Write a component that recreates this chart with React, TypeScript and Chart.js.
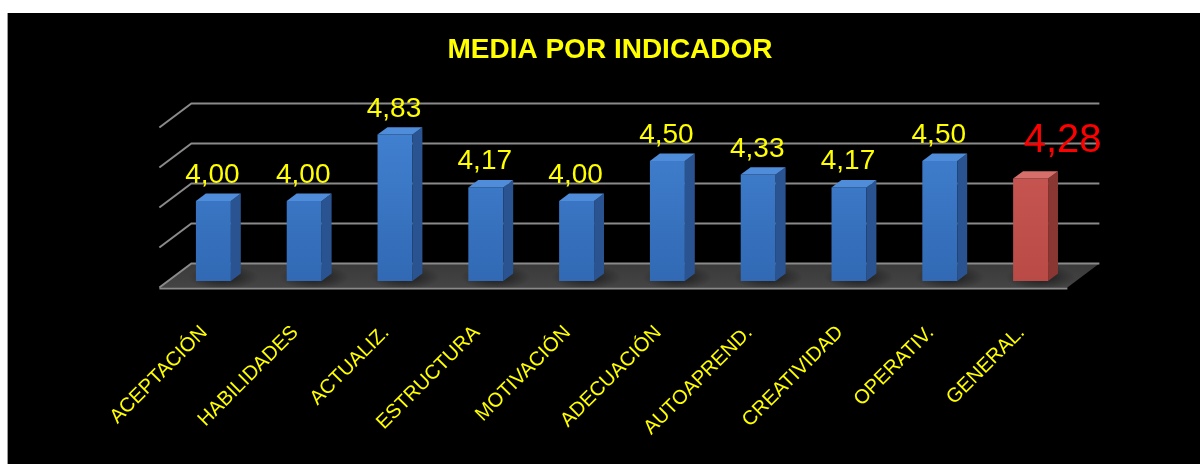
import React, { useEffect, useRef } from 'react';
import { Chart, registerables } from 'chart.js';

Chart.register(...registerables);

// ---- data ----
const categories = [
  'ACEPTACIÓN',
  'HABILIDADES',
  'ACTUALIZ.',
  'ESTRUCTURA',
  'MOTIVACIÓN',
  'ADECUACIÓN',
  'AUTOAPREND.',
  'CREATIVIDAD',
  'OPERATIV.',
  'GENERAL.',
];
const values = [4.0, 4.0, 4.83, 4.17, 4.0, 4.5, 4.33, 4.17, 4.5, 4.28];
const highlightCategory = 'GENERAL.';
const yMin = 3;
const yMax = 5;
const yStep = 0.5;
const titleText = 'MEDIA POR INDICADOR';

// ---- style ----
const FONT = "'Liberation Sans', Arial, Helvetica, sans-serif";
const YELLOW = '#ffff00';
const RED = '#ff0000';
const DEPTH = { x: 32, y: -24 };
const FRONT_FRAC = 0.27;
const BAR_FRAC = 0.31;
const GRID_COLOR = '#8a8a8a';
const BLUE = { top: '#4f8dda', frontTop: '#4282d2', frontBottom: '#3169b4', side: '#2a5491' };
const REDBAR = { top: '#d66e6a', frontTop: '#cc5a55', frontBottom: '#b94a46', side: '#8a3734' };

const fmt = (v: number) => v.toFixed(2).replace('.', ',');

const threeD = {
  id: 'threeD',
  beforeDatasetsDraw(chart: any) {
    const { ctx, chartArea: a } = chart;
    const y = chart.scales.y;
    const fx = -FRONT_FRAC * DEPTH.x;
    const fy = -FRONT_FRAC * DEPTH.y;
    const bx = (1 - FRONT_FRAC) * DEPTH.x;
    const by = (1 - FRONT_FRAC) * DEPTH.y;
    const yb = y.getPixelForValue(yMin);
    ctx.save();
    // floor
    const g = ctx.createLinearGradient(0, yb + by, 0, yb + fy);
    g.addColorStop(0, '#3a3a3a');
    g.addColorStop(1, '#444444');
    ctx.fillStyle = g;
    ctx.beginPath();
    ctx.moveTo(a.left + fx, yb + fy);
    ctx.lineTo(a.right + fx, yb + fy);
    ctx.lineTo(a.right + bx, yb + by);
    ctx.lineTo(a.left + bx, yb + by);
    ctx.closePath();
    ctx.fill();
    // soft shadows of the bars on the floor
    const meta = chart.getDatasetMeta(0);
    const dx = BAR_FRAC * DEPTH.x;
    const dy = BAR_FRAC * DEPTH.y;
    meta.data.forEach((el: any) => {
      const { x, width } = el.getProps(['x', 'width'], true);
      const sg = ctx.createRadialGradient(x + dx, yb + dy / 2, 2, x + dx, yb + dy / 2, width);
      sg.addColorStop(0, 'rgba(0,0,0,0.55)');
      sg.addColorStop(1, 'rgba(0,0,0,0)');
      ctx.fillStyle = sg;
      ctx.save();
      ctx.translate(x + dx, yb + dy / 2);
      ctx.scale(1, 0.35);
      ctx.translate(-(x + dx), -(yb + dy / 2));
      ctx.beginPath();
      ctx.arc(x + dx, yb + dy / 2, width, 0, Math.PI * 2);
      ctx.fill();
      ctx.restore();
    });
    // front edge
    ctx.strokeStyle = GRID_COLOR;
    ctx.lineWidth = 2;
    ctx.beginPath();
    ctx.moveTo(a.left + fx, yb + fy + 1);
    ctx.lineTo(a.right + fx, yb + fy + 1);
    ctx.stroke();
    // gridlines on back + left wall
    const ticks = y.ticks.map((t: any) => t.value);
    for (const v of ticks) {
      const yy = y.getPixelForValue(v);
      ctx.beginPath();
      ctx.moveTo(a.left + fx, yy + fy);
      ctx.lineTo(a.left + bx, yy + by);
      ctx.lineTo(a.right + bx, yy + by);
      ctx.stroke();
    }
    ctx.restore();
  },
  afterDatasetsDraw(chart: any) {
    const { ctx } = chart;
    const yScale = chart.scales.y;
    const base = yScale.getPixelForValue(yMin);
    const meta = chart.getDatasetMeta(0);
    const dx = BAR_FRAC * DEPTH.x;
    const dy = BAR_FRAC * DEPTH.y;
    ctx.save();
    meta.data.forEach((el: any, i: number) => {
      const { x, y, width } = el.getProps(['x', 'y', 'width'], true);
      const hl = categories[i] === highlightCategory;
      const c = hl ? REDBAR : BLUE;
      const xl = x - width / 2;
      const xr = x + width / 2;
      // side face
      ctx.fillStyle = c.side;
      ctx.beginPath();
      ctx.moveTo(xr, y);
      ctx.lineTo(xr + dx, y + dy);
      ctx.lineTo(xr + dx, base + dy);
      ctx.lineTo(xr, base);
      ctx.closePath();
      ctx.fill();
      // top face
      ctx.fillStyle = c.top;
      ctx.beginPath();
      ctx.moveTo(xl, y);
      ctx.lineTo(xr, y);
      ctx.lineTo(xr + dx, y + dy);
      ctx.lineTo(xl + dx, y + dy);
      ctx.closePath();
      ctx.fill();
      // value label
      ctx.fillStyle = hl ? RED : YELLOW;
      ctx.font = `${hl ? 40 : 28}px ${FONT}`;
      ctx.textAlign = 'center';
      ctx.textBaseline = 'alphabetic';
      ctx.fillText(fmt(values[i]), x + (hl ? 32 : -1), y - (hl ? 27 : 18));
    });
    ctx.restore();
  },
};

export default function App() {
  const ref = useRef<HTMLCanvasElement | null>(null);
  useEffect(() => {
    if (!ref.current) return;
    const colorFor = (key: 'frontTop' | 'frontBottom') =>
      categories.map((c) => (c === highlightCategory ? REDBAR[key] : BLUE[key]));
    const tops = colorFor('frontTop');
    const bottoms = colorFor('frontBottom');
    const chart = new Chart(ref.current, {
      type: 'bar',
      data: {
        labels: categories,
        datasets: [
          {
            data: values,
            backgroundColor: (ctx: any) => {
              const ch = ctx.chart;
              const a = ch.chartArea;
              const i = ctx.dataIndex ?? 0;
              if (!a) return tops[i];
              const g = ch.ctx.createLinearGradient(0, a.top, 0, a.bottom);
              g.addColorStop(0, tops[i]);
              g.addColorStop(1, bottoms[i]);
              return g;
            },
            borderWidth: 0,
            barPercentage: 0.385,
            categoryPercentage: 1,
          },
        ],
      },
      options: {
        responsive: false,
        animation: false,
        events: [],
        layout: { padding: { left: 136, right: 124, top: 0, bottom: 0 } },
        plugins: {
          legend: { display: false },
          tooltip: { enabled: false },
          title: {
            display: true,
            text: titleText,
            color: YELLOW,
            font: { family: FONT, size: 28, weight: 'bold' },
            padding: { top: 20, bottom: 54.4 },
          },
        },
        scales: {
          x: {
            grid: { display: false, drawTicks: false },
            border: { display: false },
            ticks: {
              color: YELLOW,
              font: { family: FONT, size: 20 },
              minRotation: 45,
              maxRotation: 45,
              autoSkip: false,
              padding: 40,
              labelOffset: -9,
            },
            afterFit: (s: any) => {
              s.height = 183;
            },
          },
          y: {
            min: yMin,
            max: yMax,
            ticks: { display: false, stepSize: yStep },
            grid: { display: false, drawTicks: false },
            border: { display: false },
            afterFit: (s: any) => {
              s.width = 24;
            },
          },
        },
      },
      plugins: [threeD],
    } as any);
    return () => chart.destroy();
  }, []);
  return (
    <div
      style={{
        position: 'absolute',
        left: 7,
        top: 13,
        width: 1193,
        height: 451,
        background: '#000',
        borderLeft: '1px solid #9a9a9a',
        boxSizing: 'border-box',
      }}
    >
      <canvas ref={ref} width={1192} height={451} style={{ display: 'block' }} />
    </div>
  );
}
